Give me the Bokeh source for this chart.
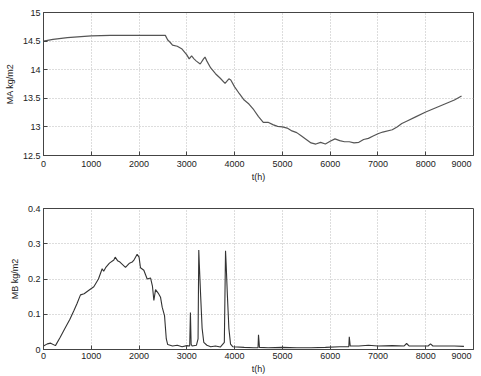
from bokeh.plotting import figure
from bokeh.layouts import column
from bokeh.models import FixedTicker
from bokeh.embed import file_html
from bokeh.resources import INLINE

# ---- data ----
t_ma = [0, 200, 500, 1000, 1400, 2000, 2550, 2600, 2650, 2700, 2800, 2900, 3000, 3050, 3100,
        3150, 3200, 3280, 3350, 3380, 3420, 3500, 3600, 3700, 3800, 3880, 3920, 4000, 4100,
        4200, 4300, 4400, 4500, 4600, 4700, 4800, 4900, 5000, 5100, 5200, 5300, 5400, 5500,
        5600, 5700, 5800, 5900, 6000, 6100, 6200, 6300, 6400, 6500, 6600, 6700, 6800, 6900,
        7000, 7100, 7300, 7400, 7500, 7600, 7800, 8000, 8200, 8400, 8600, 8750]
ma = [14.50, 14.53, 14.56, 14.59, 14.60, 14.60, 14.60, 14.52, 14.48, 14.43, 14.41, 14.36, 14.26, 14.19, 14.24,
      14.19, 14.15, 14.10, 14.19, 14.22, 14.15, 14.03, 13.93, 13.85, 13.76, 13.84, 13.82, 13.70, 13.58,
      13.47, 13.40, 13.30, 13.18, 13.08, 13.08, 13.04, 13.01, 13.00, 12.98, 12.93, 12.90, 12.84, 12.78,
      12.72, 12.70, 12.73, 12.70, 12.75, 12.79, 12.76, 12.74, 12.74, 12.72, 12.73, 12.78, 12.80, 12.84,
      12.88, 12.91, 12.95, 13.00, 13.06, 13.10, 13.18, 13.26, 13.33, 13.40, 13.47, 13.54]

t_mb = [0, 80, 150, 250, 350, 450, 550, 635, 700, 774, 850, 950, 1053, 1150, 1228, 1260, 1300,
        1380, 1472, 1500, 1550, 1600, 1716, 1800, 1856, 1900, 1960, 2000, 2030, 2100, 2170, 2240,
        2280, 2310, 2345, 2400, 2450, 2484, 2533, 2570, 2600, 2700, 2800, 2900, 3000, 3060, 3075,
        3090, 3110, 3200, 3235, 3250, 3262, 3290, 3320, 3355, 3420, 3500, 3600, 3700, 3785, 3810, 3822,
        3850, 3880, 3915, 3960, 4200, 4400, 4490, 4500, 4520, 4700, 5000, 5300, 5600, 5900, 6200,
        6390, 6400, 6420, 6600, 6800, 7000, 7300, 7550, 7600, 7650, 7900, 8050, 8100, 8150, 8400,
        8600, 8800]
mb = [0.010, 0.016, 0.018, 0.011, 0.035, 0.060, 0.085, 0.110, 0.130, 0.155, 0.158, 0.168, 0.178, 0.200, 0.229, 0.222, 0.232,
      0.245, 0.254, 0.262, 0.252, 0.248, 0.233, 0.245, 0.248, 0.255, 0.270, 0.262, 0.232, 0.225, 0.200, 0.203,
      0.180, 0.139, 0.170, 0.160, 0.148, 0.120, 0.096, 0.030, 0.014, 0.010, 0.012, 0.008, 0.011, 0.010, 0.105,
      0.015, 0.010, 0.012, 0.030, 0.282, 0.240, 0.150, 0.060, 0.020, 0.012, 0.008, 0.010, 0.007, 0.020, 0.280,
      0.245, 0.150, 0.060, 0.015, 0.008, 0.006, 0.005, 0.005, 0.042, 0.006, 0.005, 0.006, 0.005, 0.005,
      0.006, 0.008, 0.008, 0.036, 0.010, 0.010, 0.012, 0.010, 0.011, 0.010, 0.017, 0.010, 0.010, 0.010,
      0.016, 0.010, 0.010, 0.010, 0.009]

x_ticks = [0, 1000, 2000, 3000, 4000, 5000, 6000, 7000, 8000, 9000]
x_labels = ["0", "1000", "2000", "3000", "4000", "5000", "6000", "7000", "8000", "9000"]
ma_ticks = [12.5, 13, 13.5, 14, 14.5, 15]
ma_labels = ["12.5", "13", "13.5", "14", "14.5", "15"]
mb_ticks = [0, 0.1, 0.2, 0.3, 0.4]
mb_labels = ["0", "0.1", "0.2", "0.3", "0.4"]

FONT = "Liberation Sans"
TXT = "#222222"


def style(p, yticks, ylabels, ylabel, lab_standoff, axlab_standoff):
    p.xaxis.ticker = FixedTicker(ticks=x_ticks)
    ov = {k: v for k, v in zip(x_ticks, x_labels)}
    # pad the edge label so its visible part stays inside the canvas
    ov[x_ticks[-1]] = x_labels[-1] + "\u00a0\u00a0\u00a0\u00a0"
    p.xaxis.major_label_overrides = ov
    p.yaxis.ticker = FixedTicker(ticks=yticks)
    p.yaxis.major_label_overrides = {k: v for k, v in zip(yticks, ylabels)}
    p.xaxis.axis_label = "t(h)"
    p.yaxis.axis_label = ylabel
    for ax in (p.xaxis[0], p.yaxis[0]):
        ax.major_tick_in = 4
        ax.major_tick_out = 0
        ax.minor_tick_line_color = None
        ax.axis_line_color = "#444444"
        ax.major_tick_line_color = "#444444"
        ax.major_label_text_font = FONT
        ax.major_label_text_font_size = "9px"
        ax.major_label_text_color = TXT
        ax.axis_label_text_font = FONT
        ax.axis_label_text_font_size = "9px"
        ax.axis_label_text_font_style = "normal"
        ax.axis_label_text_color = TXT
    p.xaxis.major_label_standoff = lab_standoff
    p.yaxis.major_label_standoff = 3
    p.xaxis.axis_label_standoff = axlab_standoff
    p.yaxis.axis_label_standoff = 5
    p.grid.grid_line_color = "#bbbbbb"
    p.grid.grid_line_dash = "1 2"
    p.outline_line_color = "#444444"
    p.outline_line_width = 1
    p.background_fill_color = "white"
    p.border_fill_color = "white"


p1 = figure(width=481, height=190, x_range=(0, 9000), y_range=(12.5, 15),
            output_backend="svg", toolbar_location=None,
            min_border_left=43, min_border_right=8, min_border_top=12, min_border_bottom=35)
p1.line(t_ma, ma, line_color="#555555", line_width=1.2)
style(p1, ma_ticks, ma_labels, "MA kg/m2", 3, 0)

p2 = figure(width=481, height=186, x_range=(0, 9000), y_range=(0, 0.4),
            output_backend="svg", toolbar_location=None,
            min_border_left=43, min_border_right=8, min_border_top=18, min_border_bottom=27)
p2.line(t_mb, mb, line_color="#333333", line_width=1.1)
style(p2, mb_ticks, mb_labels, "MB kg/m2", 1, 0)

layout = column(p1, p2, spacing=0)
open("out.html", "w").write(file_html(layout, INLINE))
